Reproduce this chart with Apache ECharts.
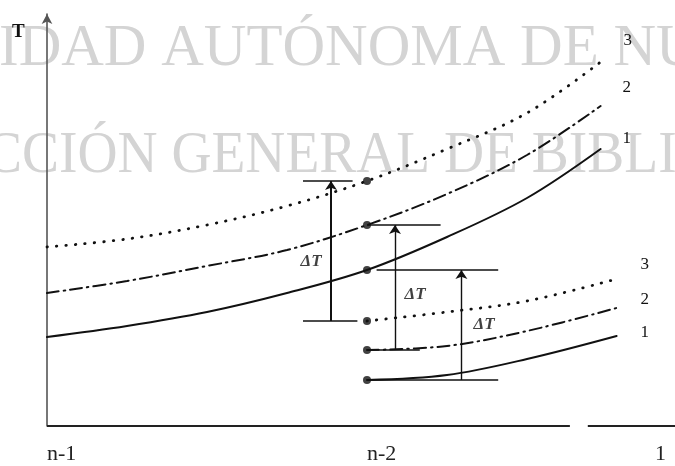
<!DOCTYPE html>
<html>
<head>
<meta charset="utf-8">
<script src="https://cdn.jsdelivr.net/npm/echarts@6/dist/echarts.min.js"></script>
<style>
  html, body { margin: 0; padding: 0; background: #fff; }
  #chart { width: 675px; height: 466px; }
</style>
</head>
<body>
<div id="chart"></div>
<script>
// Stage positions along the column (n-1 at 0, n-2 at 1)
const stageLabels = ['n-1', 'n-2', '1'];
const stagePos = [0, 1, 1.9];

// Temperature profiles from stage n-1 onwards (curves 1, 2, 3)
const upperX = [0, 0.25, 0.5, 0.75, 1, 1.25, 1.5, 1.73];
const upper1 = [22.25, 25, 28.5, 33.25, 39, 47.25, 57, 69.25];
const upper2 = [33.25, 36.25, 40, 44, 50.25, 58, 67.75, 80];
const upper3 = [44.75, 46.75, 50.25, 55, 61.25, 69.25, 78.25, 91];

// Temperature profiles from stage n-2 onwards (curves 1, 2, 3)
const lowerX = [1, 1.25, 1.5, 1.78];
const lower1 = [11.5, 12.75, 16.75, 22.5];
const lower2 = [19, 20, 23.75, 29.5];
const lower3 = [26.25, 28.5, 31.25, 36.75];

const curveNames = ['1', '2', '3'];
const deltaLabel = 'ΔT';

// Layout: where the ΔT arrows stand and how far their end bars reach
const arrowX = [1.295, 1.0875, 0.8875];           // for curves 1, 2, 3
const barTop = [[1.03, 1.41], [1.0, 1.23], [0.8, 0.955]];
const barBottom = [[1.0, 1.41], [1.0, 1.165], [0.8, 0.97]];
const deltaPos = [[1.366, 25.25], [1.15, 32.75], [0.825, 41]];
const axisGap = [1.634, 1.69];
const xMax = 1.9625;

const serif = '"Liberation Serif", "DejaVu Serif", serif';
const ink = '#111';

const zip = (xs, ys) => xs.map((x, i) => [x, ys[i]]);
const uppers = [upper1, upper2, upper3];
const lowers = [lower1, lower2, lower3];
const dashes = ['solid', [12, 5, 1.5, 5], [0.5, 9]];
const widths = [2, 2, 2.8];
const upperTagOffset = [[14, -10], [14, -18], [15, -21]];
const lowerTagOffset = [[16, -3], [16, -8], [16, -14]];

const series = [];

// x axis drawn as a broken baseline
series.push({
  type: 'line', silent: true, symbol: 'none', z: 3,
  lineStyle: { color: '#222', width: 2 },
  data: [[0, 0], [axisGap[0], 0], null, [axisGap[1], 0], [xMax, 0]],
  connectNulls: false
});

for (let k = 0; k < 3; k++) {
  const ls = { color: ink, width: widths[k], type: dashes[k], cap: 'round' };
  series.push({
    type: 'line', name: 'upper' + curveNames[k], smooth: 0.35, symbol: 'none',
    lineStyle: ls, data: zip(upperX, uppers[k]),
    endLabel: { show: true, formatter: curveNames[k], fontFamily: serif, fontSize: 17,
      color: ink, offset: upperTagOffset[k] }
  });
  series.push({
    type: 'line', name: 'lower' + curveNames[k], smooth: 0.35, symbol: 'none',
    lineStyle: ls, data: zip(lowerX, lowers[k]),
    endLabel: { show: true, formatter: curveNames[k], fontFamily: serif, fontSize: 17,
      color: ink, offset: lowerTagOffset[k] }
  });
}

// Stage n-2 points on each profile
const stageIdx = upperX.indexOf(stagePos[1]);
series.push({
  type: 'scatter', symbolSize: 8, itemStyle: { color: ink }, z: 5,
  data: [0, 1, 2].flatMap(k => [[stagePos[1], uppers[k][stageIdx]], [stagePos[1], lowers[k][0]]])
});

// ΔT arrows between the two profiles of the same curve
const arrowData = [], barData = [];
for (let k = 0; k < 3; k++) {
  const hi = uppers[k][stageIdx], lo = lowers[k][0];
  arrowData.push({ coords: [[arrowX[k], lo], [arrowX[k], hi]],
    lineStyle: { width: k === 2 ? 2 : 1.4 } });
  barData.push({ coords: [[barTop[k][0], hi], [barTop[k][1], hi]] });
  barData.push({ coords: [[barBottom[k][0], lo], [barBottom[k][1], lo]] });
}
series.push({
  type: 'lines', coordinateSystem: 'cartesian2d', z: 4,
  symbol: ['none', 'arrow'], symbolSize: [7, 9],
  lineStyle: { color: ink, width: 1.5, opacity: 1 },
  data: arrowData
});
series.push({
  type: 'lines', coordinateSystem: 'cartesian2d', z: 4,
  symbol: 'none', lineStyle: { color: ink, width: 1.5, opacity: 1 },
  data: barData
});
series.push({
  type: 'scatter', symbolSize: 0, z: 6,
  label: { show: true, position: 'inside', formatter: deltaLabel, fontFamily: serif,
    fontStyle: 'italic', fontWeight: 'bold', fontSize: 17, color: ink },
  data: deltaPos
});

const chart = echarts.init(document.getElementById('chart'), null, { renderer: 'canvas' });
chart.setOption({
  animation: false,
  backgroundColor: '#fff',
  grid: { left: 47, right: 0, top: 14, bottom: 40, containLabel: false },
  xAxis: {
    type: 'value', min: 0, max: xMax,
    axisLine: { show: false }, axisTick: { show: false }, splitLine: { show: false },
    axisLabel: {
      customValues: stagePos, margin: 17, align: 'left',
      fontFamily: serif, fontSize: 22, color: '#222',
      formatter: v => stageLabels[stagePos.indexOf(v)] || ''
    }
  },
  yAxis: {
    type: 'value', min: 0, max: 103,
    axisLine: { show: true, lineStyle: { color: '#555', width: 1.6 },
      symbol: ['none', 'arrow'], symbolSize: [8, 10] },
    axisTick: { show: false }, axisLabel: { show: false }, splitLine: { show: false }
  },
  graphic: [
    { type: 'text', z: -10, x: -1, y: 20, silent: true,
      style: { text: 'IDAD AUTÓNOMA DE NU', font: '59px ' + serif, fill: '#d4d4d4' } },
    { type: 'text', z: -10, x: -15, y: 127, scaleX: 0.94, silent: true,
      style: { text: 'CCIÓN GENERAL DE BIBLIO', font: '59px ' + serif, fill: '#d4d4d4' } },
    { type: 'text', left: 12, top: 23,
      style: { text: 'T', font: 'bold 19px ' + serif, fill: ink } }
  ],
  series: series
});
</script>
</body>
</html>
